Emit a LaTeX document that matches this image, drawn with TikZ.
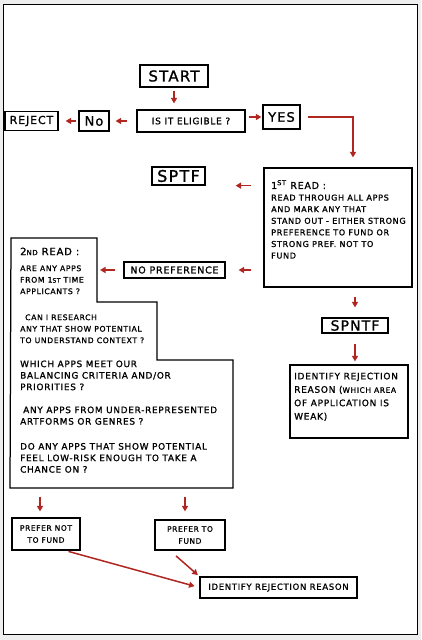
\documentclass[tikz,border=0pt]{standalone}
\usepackage{fontspec}
\setmainfont{DejaVu Sans}[LetterSpace=8,FakeBold=1.2]
\usetikzlibrary{arrows.meta}
\definecolor{inkred}{RGB}{176,38,32}
\definecolor{paper}{RGB}{238,238,238}
\newcommand\wider{\fontsize{8.9}{11.5}\selectfont}
\tikzset{
  box/.style={draw, line width=1.25pt, inner sep=0pt, align=center},
  note/.style={inner sep=0pt, align=left, anchor=north west},
  arr/.style={draw=inkred, line width=1.5pt, -{Triangle[length=5.5pt,width=6pt]}},
}

\begin{document}
\begin{tikzpicture}[x=1pt,y=-1pt]
		%%%%% START %%%%%
		\useasboundingbox (0,0) rectangle (421,640);
		\fill[paper] (0,0) rectangle (421,640);
		\draw[fill=white, line width=0.9pt] (3,4) rectangle (417,634);
		
		% eligibility
		\node[box, minimum width=68, minimum height=22, font=\fontsize{15}{15}\selectfont] (start) at (174,76) {START};
		\node[box, minimum width=108, minimum height=22, font=\fontsize{9}{9}\selectfont] (elig) at (191,121) {IS IT ELIGIBLE ?};
		\node[box, minimum width=30, minimum height=20, font=\fontsize{13}{13}\selectfont] (no) at (94,121) {No};
		\node[box, minimum width=53, minimum height=19, font=\fontsize{11}{11}\selectfont] (reject) at (31.5,121) {REJECT};
		\node[box, minimum width=37, minimum height=24, font=\fontsize{13}{13}\selectfont] (yes) at (281.5,117) {YES};
		
		\draw[arr, shorten <=3pt, shorten >=6pt] (start.south) -- (start.south |- elig.north);
		\draw[arr, shorten <=9pt, shorten >=6pt] (elig.west) -- (no.east);
		\draw[arr, shorten <=2pt, shorten >=7pt] (no.west) -- (reject.east);
		\draw[arr, shorten <=3pt, shorten >=1pt] (elig.east |- yes) -- (yes.west);
		
		% 1st read
		\node[box, minimum width=148, minimum height=119] (read1) at (338,227.5) {};
		\node[note, font=\fontsize{8.1}{11.6}\selectfont] (read1txt) at (271,180)
			{{\fontsize{9.5}{11.6}\selectfont 1\textsuperscript{ST} READ :}\\
			 READ THROUGH ALL APPS\\
			 AND MARK ANY THAT\\
			 STAND OUT - EITHER STRONG\\
			 PREFERENCE TO FUND OR\\
			 STRONG PREF. NOT TO\\
			 FUND};
		\coordinate (bend) at (353,117);
		\draw[arr, shorten <=7pt, shorten >=10pt] (yes.east) -- (bend) -- (bend |- read1.north);
		
		\node[box, minimum width=53, minimum height=18, font=\fontsize{16}{16}\selectfont] (sptf) at (178.5,176) {SPTF};
		\node[box, minimum width=101, minimum height=16, font=\fontsize{9.5}{9.5}\selectfont] (nopref) at (174.5,270) {NO PREFERENCE};
		\node[box, minimum width=66, minimum height=15, font=\fontsize{14}{14}\selectfont] (spntf) at (355,325.5) {SPNTF};
		
		\draw[arr, shorten <=12pt, shorten >=30pt] (read1.west |- sptf.south east) -- (sptf.south east);
		\draw[arr, shorten <=12pt, shorten >=13pt] (read1.west |- nopref) -- (nopref.east);
		\draw[arr, shorten <=9pt, shorten >=10pt] (spntf |- read1.south) -- (spntf.north);
		
		% weak application
		\node[box, minimum width=118, minimum height=73] (ident1) at (349,401.5) {};
		\node[note, font=\fontsize{9}{13.4}\selectfont] (ident1txt) at (294,372.5)
			{IDENTIFY REJECTION\\
			 REASON ({\fontsize{7.5}{7.5}\selectfont WHICH AREA}\\
			 OF APPLICATION IS\\
			 WEAK)};
		\draw[arr, shorten <=10pt, shorten >=3pt] (spntf.south) -- (spntf.south |- ident1.north);
		
		% 2nd read
		\coordinate (r2a) at (11,238);
		\coordinate (r2b) at (97,238);
		\coordinate (r2c) at (97,302);
		\coordinate (r2d) at (157,302);
		\coordinate (r2e) at (157,360);
		\coordinate (r2f) at (233,360);
		\coordinate (r2g) at (233,488);
		\coordinate (r2h) at (10,488);
		\draw[line width=1.25pt] (r2a) -- (r2b) -- (r2c) -- (r2d) -- (r2e) -- (r2f) -- (r2g) -- (r2h) -- cycle;
		\node[note, font=\fontsize{7.7}{11.5}\selectfont] (read2txt) at (20,247.5)
			{{\fontsize{10}{11.5}\selectfont 2{\fontsize{7}{7}\selectfont ND} READ :}\\[4.5pt]
			 ARE ANY APPS\\
			 FROM 1{\fontsize{6}{6}\selectfont ST} TIME\\
			 APPLICANTS ?\\[14.5pt]
			 \hspace*{5pt}CAN I RESEARCH\\
			 ANY THAT SHOW POTENTIAL\\
			 TO UNDERSTAND CONTEXT ?\\[12.5pt]
			 {\wider WHICH APPS MEET OUR}\\
			 {\wider BALANCING CRITERIA AND/OR}\\
			 {\wider PRIORITIES ?}\\[11.5pt]
			 \hspace*{3pt}{\wider ANY APPS FROM UNDER-REPRESENTED}\\
			 {\wider ARTFORMS OR GENRES ?}\\[13.5pt]
			 {\wider DO ANY APPS THAT SHOW POTENTIAL}\\
			 {\wider FEEL LOW-RISK ENOUGH TO TAKE A}\\
			 {\wider CHANCE ON ?}};
		\draw[arr, shorten <=8pt, shorten >=3pt] (nopref.west) -- (nopref.west -| r2b);
		
		% outcomes
		\node[box, minimum width=68, minimum height=32, font=\fontsize{7.5}{12}\selectfont] (notfund) at (46,534) {PREFER NOT\\ TO FUND};
		\node[box, minimum width=70, minimum height=30, font=\fontsize{7.5}{12}\selectfont] (tofund) at (190,535) {PREFER TO\\ FUND};
		\node[box, minimum width=157, minimum height=21, font=\fontsize{8.5}{8.5}\selectfont] (reason) at (278.5,587.5) {IDENTIFY REJECTION REASON};
		
		\coordinate (r2out1) at (40,488);
		\coordinate (r2out2) at (185,488);
		\draw[arr, shorten <=9pt, shorten >=6pt] (r2out1) -- (r2out1 |- notfund.north);
		\draw[arr, shorten <=9pt, shorten >=8pt] (r2out2) -- (r2out2 |- tofund.north);
		\draw[arr, shorten <=3pt, shorten >=5pt] ([xshift=-15pt]notfund.south east) -- (reason.west);
		\draw[arr, shorten <=8pt, shorten >=2pt] ([xshift=-20pt]tofund.south) -- (reason.north west);
		
		%%%%% END %%%%%
\end{tikzpicture}
\end{document}
